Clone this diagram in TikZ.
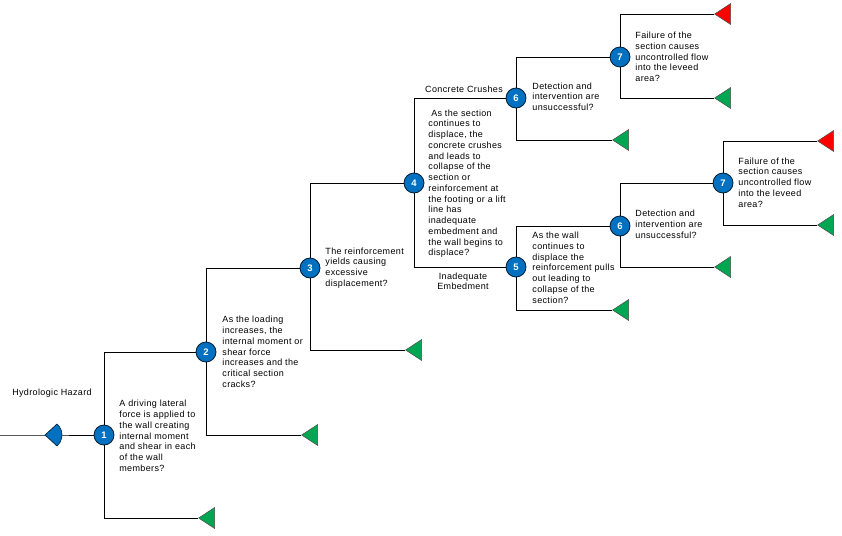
\documentclass[tikz,border=0pt]{standalone}
\usepackage{fontspec}
\setmainfont{Liberation Sans}[LetterSpace=4]
\usetikzlibrary{shapes.geometric}
\definecolor{evblue}{RGB}{0,112,192}
\definecolor{okgreen}{RGB}{0,166,81}
\definecolor{failred}{RGB}{255,0,0}
\tikzset{
  event/.style={circle,draw=black!75!evblue,fill=evblue,line width=.8pt,
    minimum size=20pt,inner sep=0pt,text=white,
    font=\fontsize{9.5}{9.5}\selectfont\bfseries},
  endtri/.style={isosceles triangle,shape border rotate=180,
    isosceles triangle stretches,minimum width=21pt,minimum height=16pt,
    inner sep=0pt,draw=black!70,line width=.5pt,anchor=apex},
  okend/.style={endtri,fill=okgreen},
  failend/.style={endtri,fill=failred},
  qtext/.style={anchor=north west,align=left,inner sep=0pt,
    font=\fontsize{9}{10.75}\selectfont},
  lbl/.style={align=center,inner sep=0pt,font=\fontsize{9}{10}\selectfont}
}
\begin{document}
\begin{tikzpicture}[x=1pt,y=-1pt,line width=.8pt]
\useasboundingbox (0,0) rectangle (842,535);
% Eventos
\node[event] (c1) at (104,435) {1};
\node[event] (c2) at (206,352) {2};
\node[event] (c3) at (310,268) {3};
\node[event] (c4) at (414,183) {4};
\node[event] (c6a) at (516,98) {6};
\node[event] (c7a) at (620,57) {7};
\node[event] (c5) at (516,267) {5};
\node[event] (c6b) at (620,226) {6};
\node[event] (c7b) at (723,183) {7};
% Finales
\node[okend] (e1) at (198,518) {};
\node[okend] (e2) at (301,435) {};
\node[okend] (e3) at (405,350) {};
\node[okend] (e6a) at (612,140) {};
\node[failend] (f7a) at (714,14) {};
\node[okend] (e7a) at (714,98) {};
\node[okend] (e5) at (612,310) {};
\node[okend] (e6b) at (714,267) {};
\node[failend] (f7b) at (817,141) {};
\node[okend] (e7b) at (817,225) {};
% Ramas
\coordinate (start) at (0,435);
\coordinate (hz) at (45,435);
\draw (start) -- (hz) -- (c1);
\draw (c1) |- (c2);  \draw (c1) |- (e1.apex);
\draw (c2) |- (c3);  \draw (c2) |- (e2.apex);
\draw (c3) |- (c4);  \draw (c3) |- (e3.apex);
\draw (c4) |- (c6a); \draw (c4) |- (c5);
\draw (c6a) |- (c7a); \draw (c6a) |- (e6a.apex);
\draw (c7a) |- (f7a.apex); \draw (c7a) |- (e7a.apex);
\draw (c5) |- (c6b); \draw (c5) |- (e5.apex);
\draw (c6b) |- (c7b); \draw (c6b) |- (e6b.apex);
\draw (c7b) |- (f7b.apex); \draw (c7b) |- (e7b.apex);
% Peligro
\fill[evblue,draw=black!75!evblue,line width=.6pt] (hz) -- (57,424)
  arc[start angle=-49,end angle=49,radius=14.6] -- cycle;
% Textos
\node[lbl] (haz) at (52,393) {Hydrologic Hazard};
\node[qtext] (q1) at (119,400) {A driving lateral\\force is applied to\\the wall creating\\internal moment\\and shear in each\\of the wall\\members?};
\node[qtext] (q2) at (222,316) {As the loading\\increases, the\\internal moment or\\shear force\\increases and the\\critical section\\cracks?};
\node[qtext] (q3) at (325,247.3) {The reinforcement\\yields causing\\excessive\\displacement?};
\node[qtext] (q4) at (428,109.3) {\ As the section\\continues to\\displace, the\\concrete crushes\\and leads to\\collapse of the\\section or\\reinforcement at\\the footing or a lift\\line has\\inadequate\\embedment and\\the wall begins to\\displace?};
\node[lbl] (crush) at (464,89.5) {Concrete Crushes};
\node[lbl] (embed) at (463,281.7) {Inadequate\\Embedment};
\node[qtext] (q6a) at (532,82.3) {Detection and\\intervention are\\unsuccessful?};
\node[qtext] (q7a) at (635,31.6) {Failure of the\\section causes\\uncontrolled flow\\into the leveed\\area?};
\node[qtext] (q5) at (532,231.6) {As the wall\\continues to\\displace the\\reinforcement pulls\\out leading to\\collapse of the\\section?};
\node[qtext] (q6b) at (635,210) {Detection and\\intervention are\\unsuccessful?};
\node[qtext] (q7b) at (738,157.3) {Failure of the\\section causes\\uncontrolled flow\\into the leveed\\area?};
\end{tikzpicture}
\end{document}
